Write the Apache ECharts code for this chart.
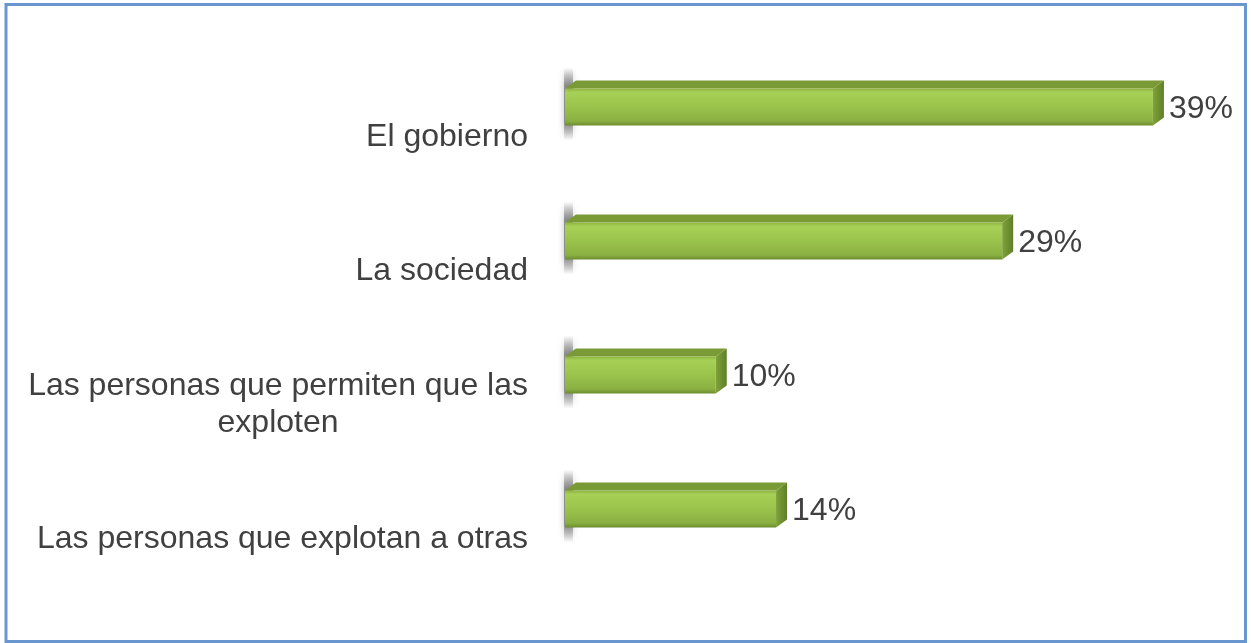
<!DOCTYPE html>
<html>
<head>
<meta charset="utf-8">
<script src="https://cdn.jsdelivr.net/npm/echarts@6/dist/echarts.min.js"></script>
<style>
    html, body {margin: 0; padding: 0; background: #fff;}
    #chart {width: 1251px; height: 643px;}
</style>
</head>
<body>
<div id="chart"></div>
<script>
var categories = ['El gobierno', 'La sociedad', 'Las personas que permiten que las\nexploten', 'Las personas que explotan a otras'];
var values = [39, 29, 10, 14];

var DX = 11;   // profundidad horizontal de la barra 3D
var DY = 8;    // profundidad vertical
var FRONT_H = 37;
var LIFT = 30; // la barra queda por encima del centro de la categoria
var FONT = '32px "Liberation Sans", Arial, sans-serif';

function bar3d(params, api) {
    var v = api.value(0);
    var start = api.coord([0, api.value(1)]);
    var end = api.coord([v, api.value(1)]);
    var x0 = start[0], x1 = end[0];
    var fc = start[1] - LIFT;           // centro de la cara frontal
    var fTop = fc - FRONT_H / 2;
    var fBot = fc + FRONT_H / 2;
    var top = fTop - DY;
    return {
        type: 'group',
        children: [
            {   // sombra de la pared
                type: 'rect',
                shape: {x: x0 - 1, y: top - 13, width: 9, height: FRONT_H + DY + 28},
                style: {
                    fill: new echarts.graphic.LinearGradient(0, 0, 0, 1, [
                        {offset: 0, color: 'rgba(110,110,110,0)'},
                        {offset: 0.25, color: 'rgba(110,110,110,0.7)'},
                        {offset: 0.75, color: 'rgba(110,110,110,0.7)'},
                        {offset: 1, color: 'rgba(110,110,110,0)'}
                    ]),
                    shadowBlur: 6,
                    shadowColor: 'rgba(0,0,0,0.35)'
                }
            },
            {   // cara superior
                type: 'polygon',
                shape: {points: [[x0, fTop], [x0 + DX, top], [x1 + DX, top], [x1, fTop]]},
                style: {fill: '#7A9A36'}
            },
            {   // cara frontal
                type: 'rect',
                shape: {x: x0, y: fTop, width: x1 - x0, height: FRONT_H},
                style: {
                    fill: new echarts.graphic.LinearGradient(0, 0, 0, 1, [
                        {offset: 0, color: '#8CB340'},
                        {offset: 0.1, color: '#A6D056'},
                        {offset: 0.5, color: '#9AC34B'},
                        {offset: 0.88, color: '#8AB042'},
                        {offset: 1, color: '#6B8C2E'}
                    ])
                }
            },
            {   // cara lateral
                type: 'polygon',
                shape: {points: [[x1, fTop], [x1 + DX, top], [x1 + DX, fBot - DY], [x1, fBot]]},
                style: {
                    fill: new echarts.graphic.LinearGradient(0, 0, 1, 0, [
                        {offset: 0, color: '#7FA23A'},
                        {offset: 1, color: '#5F7F27'}
                    ])
                }
            },
            {   // etiqueta de valor
                type: 'text',
                style: {
                    text: v + '%',
                    x: x1 + DX + 5,
                    y: fc + 2,
                    fill: '#404040',
                    font: FONT,
                    align: 'left',
                    verticalAlign: 'middle'
                }
            }
        ]
    };
}

var myChart = echarts.init(document.getElementById('chart'));
var option = {
    backgroundColor: '#fff',
    animation: false,
    grid: {left: 565, right: 83, top: 70, bottom: 37},
    xAxis: {
        type: 'value',
        min: 0,
        max: 40,
        show: false,
        splitLine: {show: false}
    },
    yAxis: {
        type: 'category',
        data: categories,
        inverse: true,
        axisLine: {show: false},
        axisTick: {show: false},
        axisLabel: {
            margin: 37,
            color: '#404040',
            fontSize: 32,
            fontFamily: '"Liberation Sans", Arial, sans-serif',
            lineHeight: 37,
            formatter: function (val) {
                if (val.indexOf('\n') < 0) return val;
                return val.split('\n').map(function (s) { return '{c|' + s + '}'; }).join('\n');
            },
            rich: {
                c: {
                    align: 'center',
                    color: '#404040',
                    fontSize: 32,
                    fontFamily: '"Liberation Sans", Arial, sans-serif',
                    lineHeight: 37
                }
            }
        }
    },
    graphic: [{
        type: 'rect',
        shape: {x: 6, y: 4.5, width: 1239.5, height: 637},
        style: {fill: 'none', stroke: '#6A96CF', lineWidth: 3},
        z: 100
    }],
    series: [{
        type: 'custom',
        renderItem: bar3d,
        encode: {x: 0, y: 1},
        data: values.map(function (v, i) { return [v, i]; })
    }]
};
myChart.setOption(option);
</script>
</body>
</html>
